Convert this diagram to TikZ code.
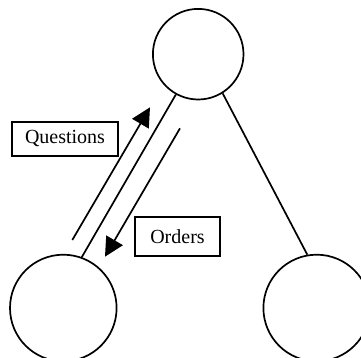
\documentclass[tikz,border=0pt]{standalone}
\usepackage{fontspec}
\setmainfont{Liberation Serif}
\usetikzlibrary{arrows.meta}
\begin{document}
\begin{tikzpicture}[x=1pt,y=-1pt,
  line width=1.7pt,
  agent/.style={draw,circle,inner sep=0pt},
  labelbox/.style={draw,line width=1.8pt,inner sep=0pt,font=\fontsize{20}{24}\selectfont},
  flow/.style={-{Triangle[length=19pt,width=19pt]},line width=1.7pt}]
\useasboundingbox (0,0) rectangle (361,358);
\begin{scope}
\clip (0,0) rectangle (361,358);
% three agents
\node[agent,minimum size=90.6pt] (top) at (198.2,54.2) {};
\node[agent,minimum size=106.6pt] (left) at (63.3,308) {};
\node[agent,minimum size=106.6pt] (right) at (316.7,308) {};
\end{scope}
% links between the agents
\draw (top.241) -- (left.70);
\draw (top.302) -- (right.100.4);
% message flows
\coordinate (qs) at (72.3,240);
\coordinate (qe) at (150,107.3);
\coordinate (os) at (180,128.3);
\coordinate (oe) at (105,256.7);
\draw[flow] (qs) -- (qe);
\draw[flow] (os) -- (oe);
% labels
\node[labelbox,minimum width=106.7pt,minimum height=34pt] (q) at (65,138.7) {Questions};
\node[labelbox,minimum width=85pt,minimum height=39pt] (o) at (177.5,236.2) {Orders};
\end{tikzpicture}
\end{document}
